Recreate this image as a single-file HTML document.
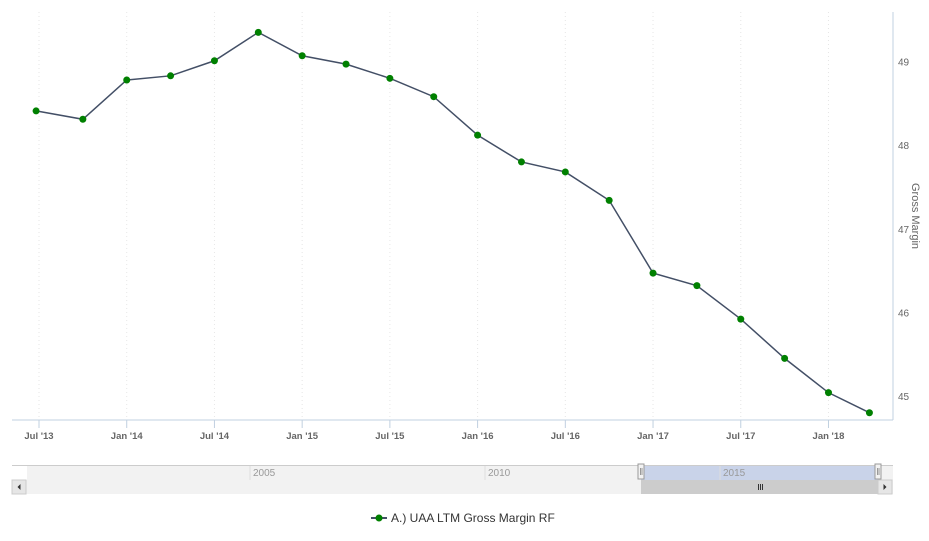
<!DOCTYPE html>
<html><head><meta charset="utf-8"><style>
body{margin:0;background:#fff;font-family:"Liberation Sans",sans-serif}
svg{display:block}
</style></head><body>
<svg id="c" width="929" height="541" xmlns="http://www.w3.org/2000/svg"></svg>
<script>
const xTickLabels=["Jul '13","Jan '14","Jul '14","Jan '15","Jul '15","Jan '16","Jul '16","Jan '17","Jul '17","Jan '18"];
const xTickMonths=[0,6,12,18,24,30,36,42,48,54];
const pointMonths=[-0.2,3,6,9,12,15,18,21,24,27,30,33,36,39,42,45,48,51,54,56.8];
const values=[48.41,48.31,48.78,48.83,49.01,49.35,49.07,48.97,48.80,48.58,48.12,47.80,47.68,47.34,46.47,46.32,45.92,45.45,45.04,44.80];
const yTicks=[45,46,47,48,49];
const navLabels=["2005","2010","2015"];
const navX=[250,485,720];

const NS="http://www.w3.org/2000/svg";
const svg=document.getElementById('c');
function el(t,a,p){const e=document.createElementNS(NS,t);for(const k in a)e.setAttribute(k,a[k]);(p||svg).appendChild(e);return e;}
const L=12,R=893,T=12,B=420;
const xs=m=>39+m*14.62;
const ys=v=>396-(v-45)*83.6;

xTickMonths.forEach(m=>{const g=el('line',{x1:xs(m),x2:xs(m),y1:T,y2:B,stroke:'#e6e6e6','stroke-dasharray':'1,3'});

});
const xa=el('line',{x1:L,x2:R,y1:B,y2:B,stroke:'#c0d0e0'});


const ya=el('line',{x1:R,x2:R,y1:T,y2:B,stroke:'#c0d0e0'});


xTickMonths.forEach((m,i)=>{
 el('line',{x1:xs(m),x2:xs(m),y1:B,y2:B+8,stroke:'#c0d0e0'});
 const t=el('text',{x:xs(m),y:439,'text-anchor':'middle','font-size':'9.5','font-weight':'bold',fill:'#666'});
 t.textContent=xTickLabels[i];
 
 
});
yTicks.forEach(v=>{
 const t=el('text',{x:898,y:ys(v)+4,'font-size':'10',fill:'#666'});
 t.textContent=v;
 
 
});
const yt=el('text',{x:0,y:0,'font-size':'11',fill:'#666','text-anchor':'middle',transform:'translate(912,216) rotate(90)'});
yt.textContent='Gross Margin';


const pts=values.map((v,i)=>xs(pointMonths[i])+','+ys(v)).join(' ');
const ln=el('polyline',{points:pts,fill:'none',stroke:'#434f66','stroke-width':'1.5'});


values.forEach((v,i)=>{const c=el('circle',{cx:xs(pointMonths[i]),cy:ys(v),r:3.5,fill:'#008000'});

});
const nav=el('g',{});


el('rect',{x:27,y:466,width:866,height:14,fill:'#f2f2f2'},nav);
el('line',{x1:12,x2:893,y1:465.5,y2:465.5,stroke:'#ccc'},nav);
el('rect',{x:641,y:466,width:237,height:14,fill:'#c9d3e9'},nav);
navX.forEach((x,i)=>{el('line',{x1:x,x2:x,y1:466,y2:480,stroke:'#ddd'},nav);
 const t=el('text',{x:x+3,y:476,'font-size':'10',fill:'#999'},nav);t.textContent=navLabels[i];
 
 });
[641,878].forEach(x=>{const h=el('rect',{x:x-3,y:464,width:6,height:15,fill:'#f2f2f2',stroke:'#999'},nav);
 
 
 el('line',{x1:x-0.5,x2:x-0.5,y1:468,y2:475,stroke:'#999'},nav);el('line',{x1:x+1,x2:x+1,y1:468,y2:475,stroke:'#999'},nav);});
el('rect',{x:12,y:480,width:881,height:14,fill:'#f2f2f2'},nav);
const th=el('rect',{x:641,y:480,width:237,height:14,fill:'#ccc'},nav);


[758,760,762].forEach(x=>el('line',{x1:x+0.5,x2:x+0.5,y1:484,y2:490,stroke:'#333'},nav));
const lb=el('rect',{x:12,y:480,width:14,height:14,fill:'#e6e6e6',stroke:'#ccc'},nav);


el('path',{d:'M20.5,484 L17.5,487 L20.5,490 Z',fill:'#333'},nav);
const rb=el('rect',{x:878,y:480,width:14,height:14,fill:'#e6e6e6',stroke:'#ccc'},nav);


el('path',{d:'M883.5,484 L886.5,487 L883.5,490 Z',fill:'#333'},nav);
const lg=el('g',{});


el('line',{x1:371,x2:387,y1:518,y2:518,stroke:'#434f66','stroke-width':'2'},lg);
el('circle',{cx:379,cy:518,r:3.5,fill:'#008000'},lg);
const lt=el('text',{x:391,y:522,'font-size':'12',fill:'#333'},lg);lt.textContent='A.) UAA LTM Gross Margin RF';
</script>
</body></html>
